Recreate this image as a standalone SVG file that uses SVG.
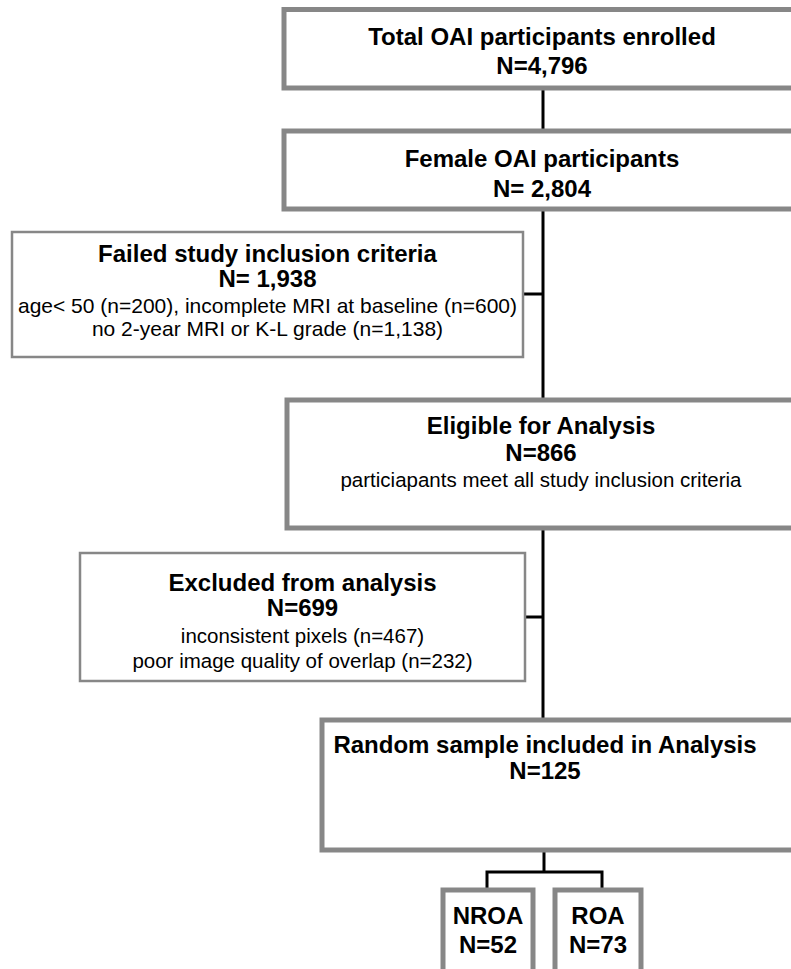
<svg xmlns="http://www.w3.org/2000/svg" width="791" height="969" viewBox="0 0 791 969">
<style>
.box{fill:#fff;stroke:#878787;stroke-width:5}
.thin{fill:#fff;stroke:#878787;stroke-width:2.5}
.b{font-family:"Liberation Sans",Arial,sans-serif;font-weight:bold;font-size:24px;fill:#000;text-anchor:middle}
.r{font-family:"Liberation Sans",Arial,sans-serif;font-size:20.5px;fill:#000;text-anchor:middle}
.ln{stroke:#000;stroke-width:3;fill:none}
</style>
<rect width="791" height="969" fill="#fff"/>
<g id="connectors">
<line class="ln" x1="543" y1="88" x2="543" y2="131"/>
<line class="ln" x1="543" y1="209" x2="543" y2="400"/>
<line class="ln" x1="523" y1="294" x2="543" y2="294"/>
<line class="ln" x1="543" y1="528" x2="543" y2="720"/>
<line class="ln" x1="525" y1="617" x2="543" y2="617"/>
<line class="ln" x1="544" y1="850" x2="544" y2="872"/>
<polyline class="ln" points="487,890 487,872 602,872 602,890"/>
</g>
<g id="total">
<rect class="box" x="284" y="9.5" width="518" height="78.5"/>
<text class="b" x="542" y="45">Total OAI participants enrolled</text>
<text class="b" x="542" y="74">N=4,796</text>
</g>
<g id="female">
<rect class="box" x="284" y="131" width="518" height="78"/>
<text class="b" x="542" y="167">Female OAI participants</text>
<text class="b" x="542" y="197">N= 2,804</text>
</g>
<g id="failed">
<rect class="thin" x="12" y="232" width="511" height="125"/>
<text class="b" x="267.5" y="262">Failed study inclusion criteria</text>
<text class="b" x="267.5" y="287">N= 1,938</text>
<text class="r" x="267.5" y="313" style="font-size:21px">age&lt; 50 (n=200), incomplete MRI at baseline (n=600)</text>
<text class="r" x="267.5" y="336" style="font-size:21px">no 2-year MRI or K-L grade (n=1,138)</text>
</g>
<g id="eligible">
<rect class="box" x="287" y="400" width="515" height="128"/>
<text class="b" x="541" y="434">Eligible for Analysis</text>
<text class="b" x="541" y="461">N=866</text>
<text class="r" x="541" y="487">particiapants meet all study inclusion criteria</text>
</g>
<g id="excluded">
<rect class="thin" x="80" y="553" width="445" height="128"/>
<text class="b" x="302.5" y="591">Excluded from analysis</text>
<text class="b" x="302.5" y="616">N=699</text>
<text class="r" x="302.5" y="643">inconsistent pixels (n=467)</text>
<text class="r" x="302.5" y="668">poor image quality of overlap (n=232)</text>
</g>
<g id="random">
<rect class="box" x="322" y="720" width="480" height="130"/>
<text class="b" x="545" y="753">Random sample included in Analysis</text>
<text class="b" x="545" y="779">N=125</text>
</g>
<g id="nroa">
<rect class="box" x="443" y="890" width="90" height="90"/>
<text class="b" x="488" y="924">NROA</text>
<text class="b" x="488" y="953">N=52</text>
</g>
<g id="roa">
<rect class="box" x="555" y="890" width="86" height="90"/>
<text class="b" x="598" y="924">ROA</text>
<text class="b" x="598" y="953">N=73</text>
</g>
</svg>
